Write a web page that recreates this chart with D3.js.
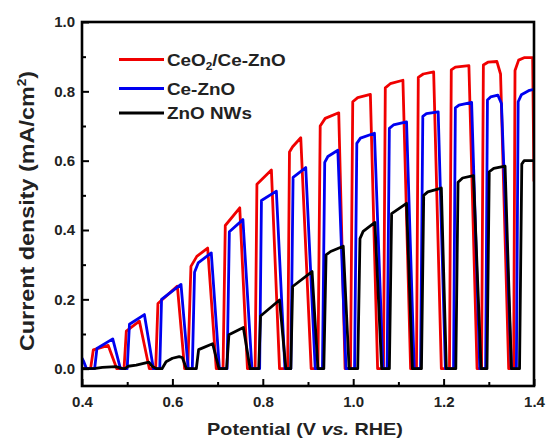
<!DOCTYPE html>
<html>
<head>
<meta charset="utf-8">
<script src="https://cdn.jsdelivr.net/npm/d3@7"></script>
<style>
  body { margin: 0; background: #fff; }
  text { font-family: "Liberation Sans", Arial, sans-serif; font-weight: bold; }
</style>
</head>
<body>
<div id="container"></div>
<script>
/* DATA (potential V, current density mA/cm2) */
const seriesNames = ["CeO2/Ce-ZnO", "Ce-ZnO", "ZnO NWs"];

const ceo2CeZno = [
  [0.400,0.000],
  [0.419,0.000],[0.425,0.054],[0.458,0.067],[0.477,0.000],
  [0.493,0.000],[0.498,0.108],[0.527,0.137],[0.549,0.000],
  [0.563,0.000],[0.568,0.188],[0.611,0.238],[0.627,0.000],
  [0.634,0.000],[0.641,0.295],[0.654,0.324],[0.678,0.348],[0.697,0.000],
  [0.712,0.000],[0.717,0.413],[0.749,0.464],[0.766,0.000],
  [0.783,0.000],[0.787,0.532],[0.819,0.573],[0.837,0.000],
  [0.855,0.000],[0.859,0.625],[0.866,0.640],[0.884,0.666],[0.907,0.000],
  [0.922,0.000],[0.927,0.700],[0.938,0.722],[0.968,0.738],[0.982,0.000],
  [0.994,0.000],[0.999,0.770],[1.010,0.782],[1.038,0.791],[1.054,0.000],
  [1.067,0.000],[1.071,0.810],[1.082,0.822],[1.110,0.832],[1.127,0.000],
  [1.140,0.000],[1.144,0.840],[1.155,0.850],[1.178,0.856],[1.195,0.000],
  [1.213,0.000],[1.217,0.862],[1.226,0.870],[1.256,0.874],[1.274,0.000],
  [1.284,0.000],[1.288,0.876],[1.298,0.884],[1.318,0.886],[1.326,0.850],[1.344,0.000],
  [1.355,0.000],[1.358,0.860],[1.366,0.890],[1.378,0.897],[1.397,0.897],[1.400,0.540]
];

const ceZno = [
  [0.400,0.030],[0.404,0.020],[0.410,0.000],
  [0.428,0.000],[0.433,0.058],[0.468,0.086],[0.485,0.000],
  [0.500,0.000],[0.505,0.128],[0.538,0.156],[0.558,0.000],
  [0.572,0.000],[0.576,0.200],[0.619,0.243],[0.635,0.000],
  [0.644,0.000],[0.649,0.278],[0.657,0.305],[0.686,0.334],[0.704,0.000],
  [0.721,0.000],[0.726,0.395],[0.756,0.430],[0.776,0.000],
  [0.793,0.000],[0.797,0.485],[0.830,0.512],[0.849,0.000],
  [0.862,0.000],[0.867,0.552],[0.895,0.580],[0.916,0.000],
  [0.932,0.000],[0.937,0.595],[0.944,0.612],[0.966,0.630],[0.984,0.000],
  [1.003,0.000],[1.008,0.650],[1.016,0.665],[1.047,0.679],[1.066,0.000],
  [1.075,0.000],[1.080,0.693],[1.089,0.703],[1.118,0.712],[1.135,0.000],
  [1.149,0.000],[1.154,0.728],[1.162,0.736],[1.188,0.741],[1.204,0.000],
  [1.222,0.000],[1.226,0.752],[1.234,0.760],[1.262,0.768],[1.280,0.000],
  [1.293,0.000],[1.297,0.775],[1.304,0.784],[1.320,0.789],[1.328,0.765],[1.350,0.000],
  [1.361,0.000],[1.365,0.770],[1.372,0.790],[1.390,0.803],[1.400,0.806]
];

const znoNws = [
  [0.400,0.000],[0.430,0.001],[0.445,0.004],[0.475,0.006],[0.488,0.001],[0.495,0.000],
  [0.502,0.007],[0.520,0.010],[0.548,0.019],[0.556,0.006],[0.565,0.000],[0.577,0.000],
  [0.586,0.020],[0.600,0.030],[0.615,0.035],[0.622,0.032],[0.631,0.000],
  [0.653,0.000],[0.658,0.055],[0.689,0.072],[0.703,0.000],
  [0.720,0.000],[0.725,0.098],[0.757,0.119],[0.772,0.000],
  [0.791,0.000],[0.795,0.152],[0.837,0.198],[0.851,0.000],
  [0.862,0.000],[0.866,0.237],[0.909,0.280],[0.922,0.000],
  [0.935,0.000],[0.940,0.328],[0.950,0.338],[0.978,0.353],[0.991,0.000],
  [1.010,0.000],[1.015,0.375],[1.022,0.396],[1.048,0.422],[1.063,0.000],
  [1.080,0.000],[1.085,0.447],[1.118,0.477],[1.131,0.000],
  [1.151,0.000],[1.156,0.500],[1.165,0.510],[1.195,0.521],[1.206,0.000],
  [1.227,0.000],[1.232,0.538],[1.242,0.550],[1.266,0.557],[1.283,0.000],
  [1.296,0.000],[1.301,0.568],[1.311,0.578],[1.336,0.584],[1.350,0.000],
  [1.368,0.000],[1.373,0.590],[1.378,0.600],[1.400,0.600]
];

const xMajor = [0.4, 0.6, 0.8, 1.0, 1.2, 1.4];
const xMinor = [0.5, 0.7, 0.9, 1.1, 1.3];
const yMajor = [0.0, 0.2, 0.4, 0.6, 0.8, 1.0];
const yMinor = [0.1, 0.3, 0.5, 0.7, 0.9];

/* CONSTANTS */
const width = 547;
const height = 444;
const plotL = 82, plotR = 534, plotT = 22, plotB = 386;
const colors = ["#f00000", "#0000f0", "#000000"];

/* SCALES */
const xScale = d3.scaleLinear().domain([0.4, 1.4]).range([plotL, plotR]);
const yScale = d3.scaleLinear().domain([-0.05, 1.0]).range([plotB, plotT]);

const svg = d3.select("#container")
  .append("svg")
  .attr("width", width)
  .attr("height", height);

svg.append("clipPath").attr("id", "plot")
  .append("rect")
  .attr("x", plotL).attr("y", plotT)
  .attr("width", plotR - plotL).attr("height", plotB - plotT);

// lines
const line = d3.line()
  .x(d => xScale(d[0]))
  .y(d => yScale(d[1]));

[ceo2CeZno, ceZno, znoNws].forEach((s, i) => {
  svg.append("path")
    .datum(s)
    .attr("clip-path", "url(#plot)")
    .attr("fill", "none")
    .attr("stroke", colors[i])
    .attr("stroke-width", 2.8)
    .attr("stroke-linejoin", "round")
    .attr("d", line);
});

// axes (ticks point inward)
const fmt = d3.format(".1f");
const xAx = svg.append("g").attr("transform", `translate(0,${plotB})`)
  .call(d3.axisBottom(xScale).tickValues(xMajor).tickFormat(fmt)
    .tickSizeInner(-7).tickSizeOuter(0).tickPadding(10));
const xAxMinor = svg.append("g").attr("transform", `translate(0,${plotB})`)
  .call(d3.axisBottom(xScale).tickValues(xMinor).tickFormat("")
    .tickSizeInner(-4).tickSizeOuter(0));
const yAx = svg.append("g").attr("transform", `translate(${plotL},0)`)
  .call(d3.axisLeft(yScale).tickValues(yMajor).tickFormat(fmt)
    .tickSizeInner(-7).tickSizeOuter(0).tickPadding(7));
const yAxMinor = svg.append("g").attr("transform", `translate(${plotL},0)`)
  .call(d3.axisLeft(yScale).tickValues(yMinor).tickFormat("")
    .tickSizeInner(-4).tickSizeOuter(0));

[xAx, xAxMinor, yAx, yAxMinor].forEach(g => {
  g.select(".domain").remove();
  g.selectAll("line").attr("stroke", "#000").attr("stroke-width", 2);
  g.selectAll("text")
    .attr("fill", "#222")
    .style("font-size", "15px")
    .style("font-family", "'Liberation Sans', Arial, sans-serif")
    .style("font-weight", "bold");
});

// frame
svg.append("rect")
  .attr("x", plotL).attr("y", plotT)
  .attr("width", plotR - plotL).attr("height", plotB - plotT)
  .attr("fill", "none")
  .attr("stroke", "#000")
  .attr("stroke-width", 2.6);

/* LEGEND */
const legendY = [59.5, 88.5, 113];
const legend = svg.append("g");
seriesNames.forEach((name, i) => {
  legend.append("line")
    .attr("x1", 119).attr("x2", 164)
    .attr("y1", legendY[i]).attr("y2", legendY[i])
    .attr("stroke", colors[i])
    .attr("stroke-width", 2.8);
  const t = legend.append("text")
    .attr("transform", `translate(167,${legendY[i] + 6}) scale(1.18,1)`)
    .style("font-size", "16px")
    .attr("fill", "#222");
  if (i === 0) {
    t.append("tspan").text("CeO");
    t.append("tspan").attr("dy", 4).style("font-size", "10px").text("2");
    t.append("tspan").attr("dy", -4).text("/Ce-ZnO");
  } else {
    t.text(name);
  }
});

/* AXIS TITLES */
const xt = svg.append("text")
  .attr("transform", `translate(305,435) scale(1.2,1)`)
  .attr("text-anchor", "middle")
  .style("font-size", "16.5px")
  .attr("fill", "#222");
xt.append("tspan").text("Potential (V ");
xt.append("tspan").style("font-style", "italic").text("vs.");
xt.append("tspan").text(" RHE)");

const yt = svg.append("text")
  .attr("transform", `translate(34,211) rotate(-90) scale(1.14,1)`)
  .attr("text-anchor", "middle")
  .style("font-size", "20.5px")
  .attr("fill", "#222");
yt.append("tspan").text("Current density (mA/cm");
yt.append("tspan").attr("dy", -8).style("font-size", "12px").text("2");
yt.append("tspan").attr("dy", 8).text(")");
</script>
</body>
</html>
